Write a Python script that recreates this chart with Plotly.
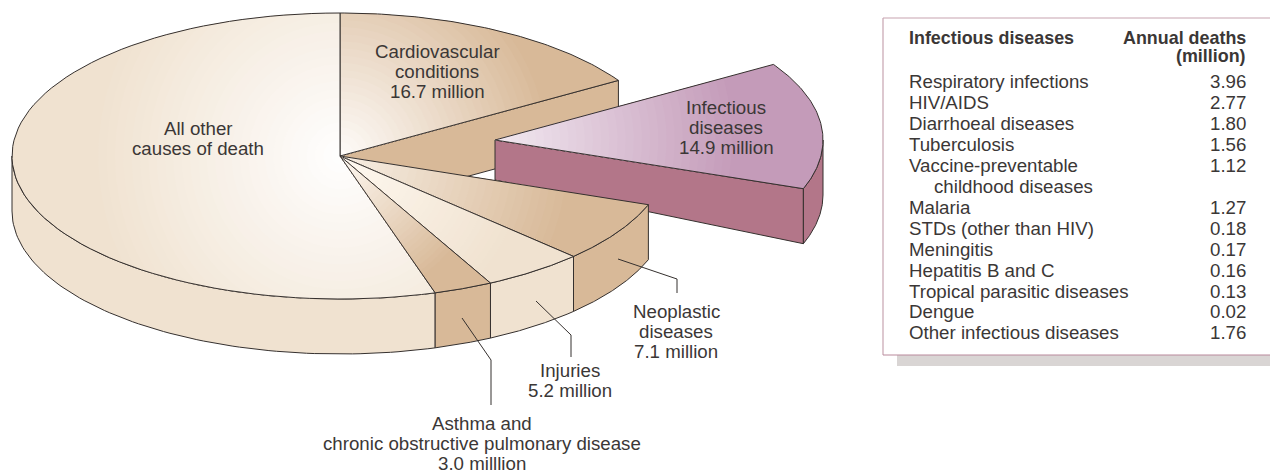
import math
import plotly.graph_objects as go

# ---------- data ----------
CATEGORIES = ["Cardiovascular conditions", "Infectious diseases", "Neoplastic diseases",
              "Injuries", "Asthma and COPD", "All other causes of death"]
VALUES = [16.7, 14.9, 7.1, 5.2, 3.0, 56.6]   # last one is unlabelled: estimated from its angle

TABLE_HEAD_LEFT = "Infectious diseases"
TABLE_HEAD_RIGHT = ["Annual deaths", "(million)"]
TABLE_NAMES = ["Respiratory infections", "HIV/AIDS", "Diarrhoeal diseases", "Tuberculosis",
               "Vaccine-preventable", "    childhood diseases", "Malaria", "STDs (other than HIV)",
               "Meningitis", "Hepatitis B and C", "Tropical parasitic diseases", "Dengue",
               "Other infectious diseases"]
TABLE_VALUES = ["3.96", "2.77", "1.80", "1.56", "1.12", "", "1.27", "0.18", "0.17", "0.16",
                "0.13", "0.02", "1.76"]

LABELS = [
    (198, 128, 20, ["All other", "causes of death"]),
    (437, 51, 20, ["Cardiovascular", "conditions", "16.7 million"]),
    (726, 107, 20, ["Infectious", "diseases", "14.9 million"]),
    (676, 311, 20, ["Neoplastic", "diseases", "7.1 million"]),
    (570, 370, 20, ["Injuries", "5.2 million"]),
    (481.5, 423, 20, ["Asthma and", "chronic obstructive pulmonary disease", "3.0 milllion"]),
]

# ---------- styles and geometry ----------
CX, CY, RX, RY, DEPTH = 340, 156, 328, 143, 55
EXPLODE = {"Infectious diseases": (155, -16)}
INK = "#35302e"
TEXT = "#3b3736"
FONT = "Liberation Sans"
# inner colour, outer colour, gradient radius (px), side colour
STYLE = {
    "Cardiovascular conditions": ("#fffdfb", "#d8b998", 215, "#d8b998"),
    "Infectious diseases": ("#f3ebf2", "#c49bb9", 245, "#b37689"),
    "Neoplastic diseases": ("#f8f0e6", "#d8b998", 235, "#d8b998"),
    "Injuries": ("#fff9f1", "#f0e2d0", 190, "#f0e2d0"),
    "Asthma and COPD": ("#fffaf4", "#d8b998", 150, "#d8b998"),
    "All other causes of death": ("#ffffff", "#f0e2d0", 250, "#f0e2d0"),
}
BANDS = 30


def hex2rgb(h):
    return [int(h[i:i + 2], 16) for i in (1, 3, 5)]


def mix(a, b, t):
    ca, cb = hex2rgb(a), hex2rgb(b)
    return "rgb(%d,%d,%d)" % tuple(round(p + (q - p) * t) for p, q in zip(ca, cb))


def arc(a0, a1, ox=0, oy=0, dy=0, n=80):
    pts = [a0 + (a1 - a0) * i / n for i in range(n + 1)]
    return ([CX + ox + RX * math.cos(math.radians(a)) for a in pts],
            [CY + oy + dy - RY * math.sin(math.radians(a)) for a in pts])


fig = go.Figure()


def poly(xs, ys, fill=None, line=INK, width=1.0):
    fig.add_trace(go.Scatter(
        x=xs, y=ys, mode="lines", hoverinfo="skip", showlegend=False,
        fill="toself" if fill else "none", fillcolor=fill,
        line=dict(color=line if line else "rgba(0,0,0,0)", width=width if line else 0)))


def side(a0, a1, colour, ox=0, oy=0):
    """Outer wall of a slice between two angles (a0 > a1)."""
    tx, ty = arc(a0, a1, ox, oy)
    bx, by = arc(a1, a0, ox, oy, DEPTH)
    poly(tx + bx + tx[:1], ty + by + ty[:1], colour)


def top(a0, a1, inner, outer, radius, ox=0, oy=0):
    ax, ay = CX + ox, CY + oy
    n = 80
    angles = [a0 + (a1 - a0) * i / n for i in range(n + 1)]
    for k in range(BANDS, 0, -1):
        r = radius * k / BANDS
        if k == BANDS:
            r = 1000
        xs, ys = [ax], [ay]
        for a in angles:
            c, s = math.cos(math.radians(a)), math.sin(math.radians(a))
            edge = math.hypot(RX * c, RY * s)
            d = min(r, edge) / edge
            xs.append(ax + RX * c * d)
            ys.append(ay - RY * s * d)
        xs.append(ax)
        ys.append(ay)
        poly(xs, ys, mix(inner, outer, k / BANDS), None)
    xs, ys = arc(a0, a1, ox, oy)
    poly([ax] + xs + [ax], [ay] + ys + [ay])


# slice angles from the values, clockwise from twelve o'clock
total = sum(VALUES)
bounds = {}
angle = 90.0
for name, value in zip(CATEGORIES, VALUES):
    next_angle = angle - 360.0 * value / total
    bounds[name] = (angle, next_angle)
    angle = next_angle

# cardiovascular, with its cut face where the infectious slice was pulled out
name = CATEGORIES[0]
a0, a1 = bounds[name]
inner, outer, radius, wall = STYLE[name]
ex, ey = arc(a1, a1, n=1)
poly([CX, ex[0], ex[0], CX, CX], [CY, ey[0], ey[0] + DEPTH, CY + DEPTH, CY], wall)
top(a0, a1, inner, outer, radius)

# all other causes
name = CATEGORIES[5]
a0, a1 = bounds[name]
inner, outer, radius, wall = STYLE[name]
side(-180, a0, wall)
top(a0, a1, inner, outer, radius)

# infectious, pulled out
name = CATEGORIES[1]
a0, a1 = bounds[name]
inner, outer, radius, wall = STYLE[name]
ox, oy = EXPLODE[name]
ex, ey = arc(a1, a1, ox, oy, n=1)
APEX_DEPTH = 40
poly([CX + ox, ex[0], ex[0], CX + ox, CX + ox],
     [CY + oy, ey[0], ey[0] + DEPTH, CY + oy + APEX_DEPTH, CY + oy], wall)
side(a1, 0, wall, ox, oy)
top(a0, a1, inner, outer, radius, ox, oy)

# front slices
for name in CATEGORIES[2:5]:
    a0, a1 = bounds[name]
    inner, outer, radius, wall = STYLE[name]
    side(a0, a1, wall)
    top(a0, a1, inner, outer, radius)

# leader lines
LEADERS = [([618, 677, 677], [259, 279, 293]),
           ([536, 571, 571], [301, 335, 357]),
           ([462, 491, 491], [318, 360, 405])]
for xs, ys in LEADERS:
    poly(xs, ys, None, INK, 1.0)

anns = []
SIZE = 18.7
HEAD_SIZE = 17.9


def label(x, y, text, anchor="center", bold=False, size=SIZE):
    anns.append(dict(x=x, y=y, text=("<b>%s</b>" % text) if bold else text, showarrow=False,
                     xanchor=anchor, yanchor="middle", align=anchor,
                     font=dict(family=FONT, size=size, color=TEXT)))


for x, y, step, lines in LABELS:
    for j, line in enumerate(lines):
        label(x, y + step * j, line)

# table panel
ROW0, ROWH = 81.5, 20.95
TX, VX = 907, 1248
label(TX, 38, TABLE_HEAD_LEFT, "left", True, HEAD_SIZE)
label(VX, 38, TABLE_HEAD_RIGHT[0], "right", True, HEAD_SIZE)
label(VX, 56, TABLE_HEAD_RIGHT[1], "right", True, HEAD_SIZE)
for i, (n, v) in enumerate(zip(TABLE_NAMES, TABLE_VALUES)):
    y = ROW0 + ROWH * i
    indent = 25 if n.startswith(" ") else 0
    label(TX + indent, y, n.strip(), "left")
    if v:
        label(VX, y, v, "right")

PANEL = "#c7a3b0"
shapes = [
    dict(type="rect", x0=897, x1=1270, y0=355, y1=366, fillcolor="#d9d5d4", line_width=0, layer="below"),
    dict(type="line", x0=883, x1=1270, y0=18, y1=18, line=dict(color=PANEL, width=1.2)),
    dict(type="line", x0=883, x1=883, y0=18, y1=355, line=dict(color=PANEL, width=1.2)),
    dict(type="line", x0=883, x1=1270, y0=355, y1=355, line=dict(color="#b98a9c", width=1.2)),
]

fig.update_layout(
    width=1270, height=470, margin=dict(l=0, r=0, t=0, b=0),
    paper_bgcolor="white", plot_bgcolor="white", showlegend=False,
    xaxis=dict(range=[0, 1270], visible=False, fixedrange=True),
    yaxis=dict(range=[470, 0], visible=False, fixedrange=True),
    annotations=anns, shapes=shapes)
fig.write_html("out.html", config={"displayModeBar": False},
               post_script="document.body.style.margin='0';document.documentElement.style.overflow='hidden';")
